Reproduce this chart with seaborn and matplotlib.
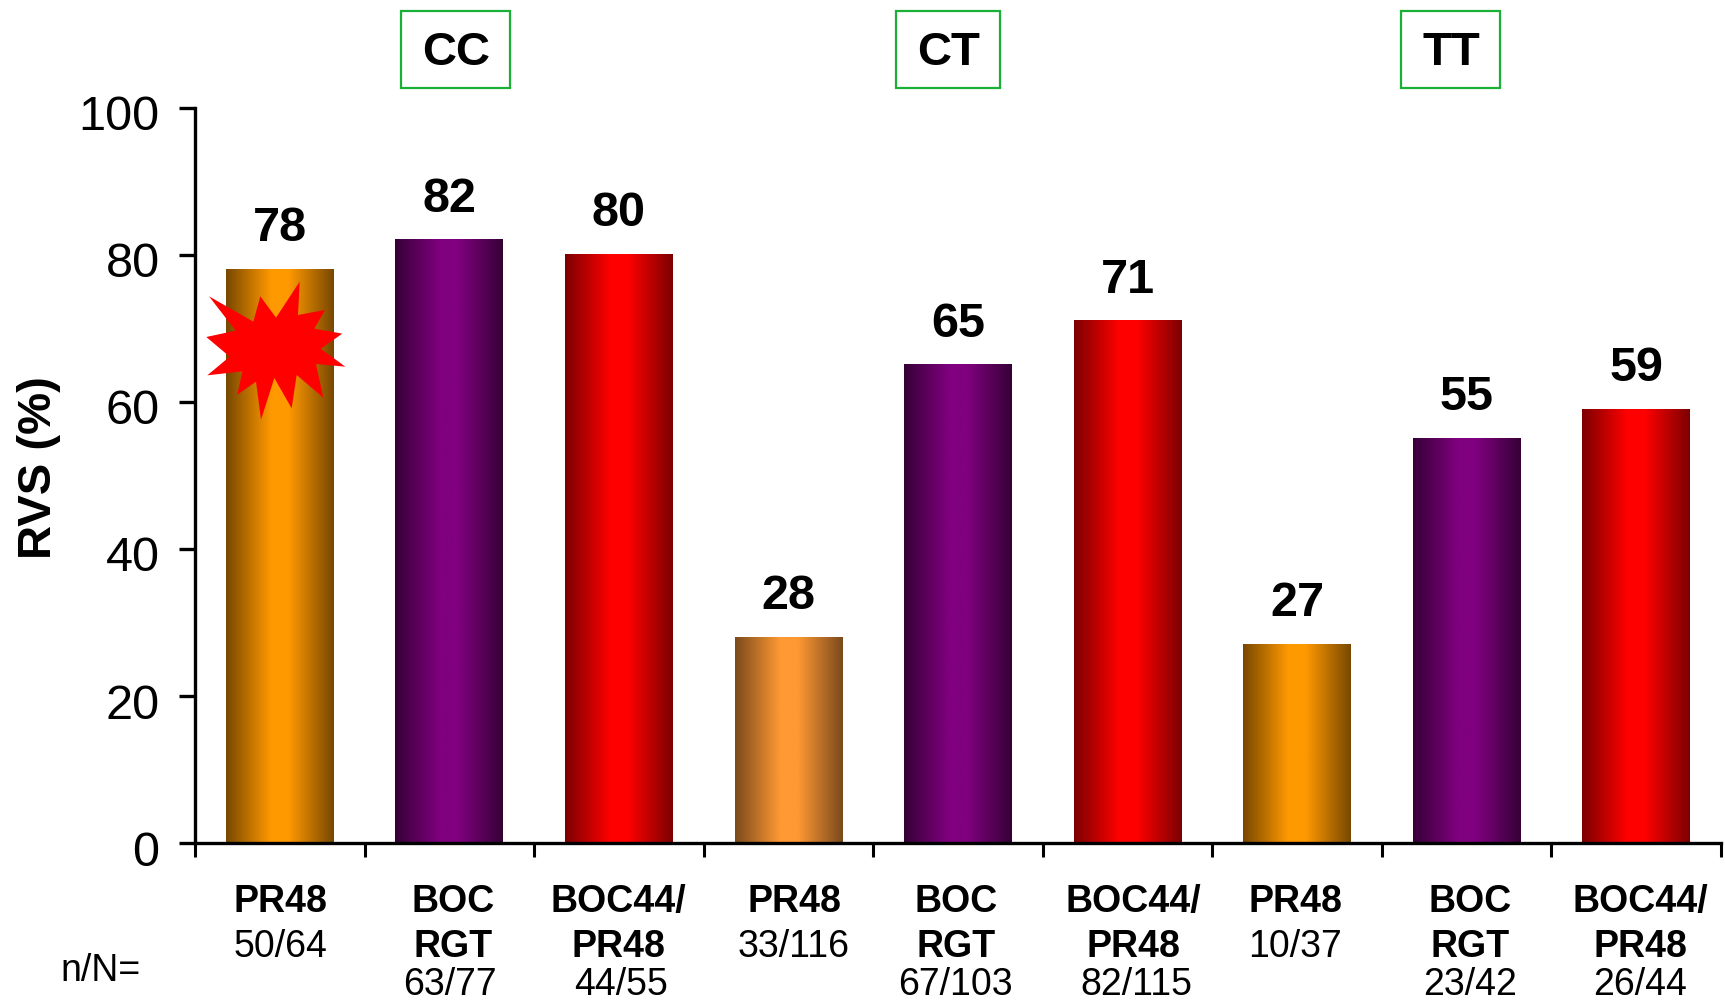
import numpy as np
import pandas as pd
import matplotlib
matplotlib.use('Agg')
import matplotlib.pyplot as plt
import seaborn as sns
from matplotlib.colors import LinearSegmentedColormap
from matplotlib.patches import Polygon, Rectangle
from matplotlib.transforms import ScaledTranslation

W, H = 1725, 1004

values = [78, 82, 80, 28, 65, 71, 27, 55, 59]
treatments = ['PR48', 'BOC\nRGT', 'BOC44/\nPR48'] * 3
counts = ['50/64', '63/77', '44/55', '33/116', '67/103', '82/115', '10/37', '23/42', '26/44']
genotypes = ['CC', 'CT', 'TT']

bright = ['#ff9900', '#800080', '#ff0000', '#ff9933', '#800080', '#ff0000', '#ff9900', '#800080', '#ff0000']
dark = ['#784800', '#360036', '#7c0000', '#7a4a1c', '#360036', '#7c0000', '#784800', '#360036', '#7c0000']

sns.set_theme(style='ticks')
plt.rcParams['font.family'] = ['Liberation Sans', 'DejaVu Sans']

df = pd.DataFrame({'pos': range(len(values)), 'rvs': values})

fig = plt.figure(figsize=(W / 100, H / 100), dpi=100)
ax = fig.add_axes([195 / W, 1 - 844 / H, (1721 - 195) / W, (844 - 108.5) / H])
sns.barplot(data=df, x='pos', y='rvs', width=0.635, color='white', saturation=1, ax=ax)

# seaborn places the bars, the gradient is painted inside each one
for bar, c1, c2 in zip(ax.patches, dark, bright):
    x0, w, h = bar.get_x(), bar.get_width(), bar.get_height()
    cmap = LinearSegmentedColormap.from_list('g', [(0, c1), (0.42, c2), (0.58, c2), (1, c1)])
    ax.imshow(np.linspace(0, 1, 256)[None, :], cmap=cmap, aspect='auto',
              extent=(x0, x0 + w, 0, h), zorder=2)
    bar.set_edgecolor('none')
    ax.annotate(str(int(h)), (x0 + w / 2, h), xytext=(0, 30), textcoords='offset points',
                ha='center', va='center', fontsize=35, fontweight='bold', color='black')

ax.set_xlim(-0.5, len(values) - 0.5)
ax.set_ylim(0, 100)
ax.set_yticks(range(0, 101, 20))
ax.set_xticks(np.arange(len(values) + 1) - 0.5)
ax.set_xticklabels([])
ax.tick_params(axis='y', length=11.5, width=2.4, labelsize=35, pad=14, colors='black')
ax.tick_params(axis='x', length=10, width=2.2, color='black')
ax.set_xlabel('')
ax.set_ylabel('')
sns.despine(ax=ax)
for side in ['left', 'bottom']:
    ax.spines[side].set_linewidth(2.4)
    ax.spines[side].set_color('black')
    ax.spines[side].set_zorder(5)

# the tick numbers sit a little below their ticks in the reference
shift = ScaledTranslation(0, -3 / 72, fig.dpi_scale_trans)
for lab in ax.get_yticklabels():
    lab.set_transform(lab.get_transform() + shift)

fig.text(39 / W, 1 - 468 / H, 'RVS (%)', rotation=90, ha='center', va='center',
         fontsize=34, fontweight='bold', color='black')

# star marker over the first bar, offsets in pixels around its centre
star = [(177, 349), (310, 425), (331, 349), (378, 413), (449, 305), (444, 405), (525, 390), (493, 446),
        (577, 461), (512, 506), (586, 560), (498, 552), (520, 653), (440, 585), (425, 685), (373, 594),
        (333, 719), (318, 605), (262, 644), (277, 574), (172, 586), (239, 530), (169, 471), (257, 452)]
star = [(150 + a / 3, 181 + b / 3) for a, b in star]
star = [(a / W, 1 - b / H) for a, b in star]
fig.add_artist(Polygon(star, closed=True, transform=fig.transFigure, facecolor='#ff0000',
                       edgecolor='none', zorder=6))

# genotype boxes
box_x = [(401, 510), (896, 1000), (1401, 1500)]
label_x = [456, 949, 1451]
for name, (a, b), lx in zip(genotypes, box_x, label_x):
    fig.add_artist(Rectangle((a / W, 1 - 89 / H), (b - a) / W, 77 / H, transform=fig.transFigure,
                             facecolor='none', edgecolor='#1aaf37', linewidth=1.6))
    fig.text(lx / W, 1 - 53 / H, name, ha='center', va='center', fontsize=34,
             fontweight='bold', color='black')

# labels under the axis
name_x = [280, 453, 618, 794, 956, 1133, 1295, 1470, 1640]
count_x = [280, 450, 621, 794, 955, 1136, 1295, 1470, 1640]
count_y = {1: 947, 2: 985}
for name, cnt, nx, cx in zip(treatments, counts, name_x, count_x):
    lines = name.split('\n')
    for i, line in enumerate(lines):
        fig.text(nx / W, 1 - (902 + i * 45) / H, line, ha='center', va='center', fontsize=27,
                 fontweight='bold', color='black')
    fig.text(cx / W, 1 - count_y[len(lines)] / H, cnt, ha='center', va='center',
             fontsize=27, color='black')
fig.text(101 / W, 1 - 971 / H, 'n/N=', ha='center', va='center', fontsize=27, color='black')

fig.savefig('out.png', dpi=100)
